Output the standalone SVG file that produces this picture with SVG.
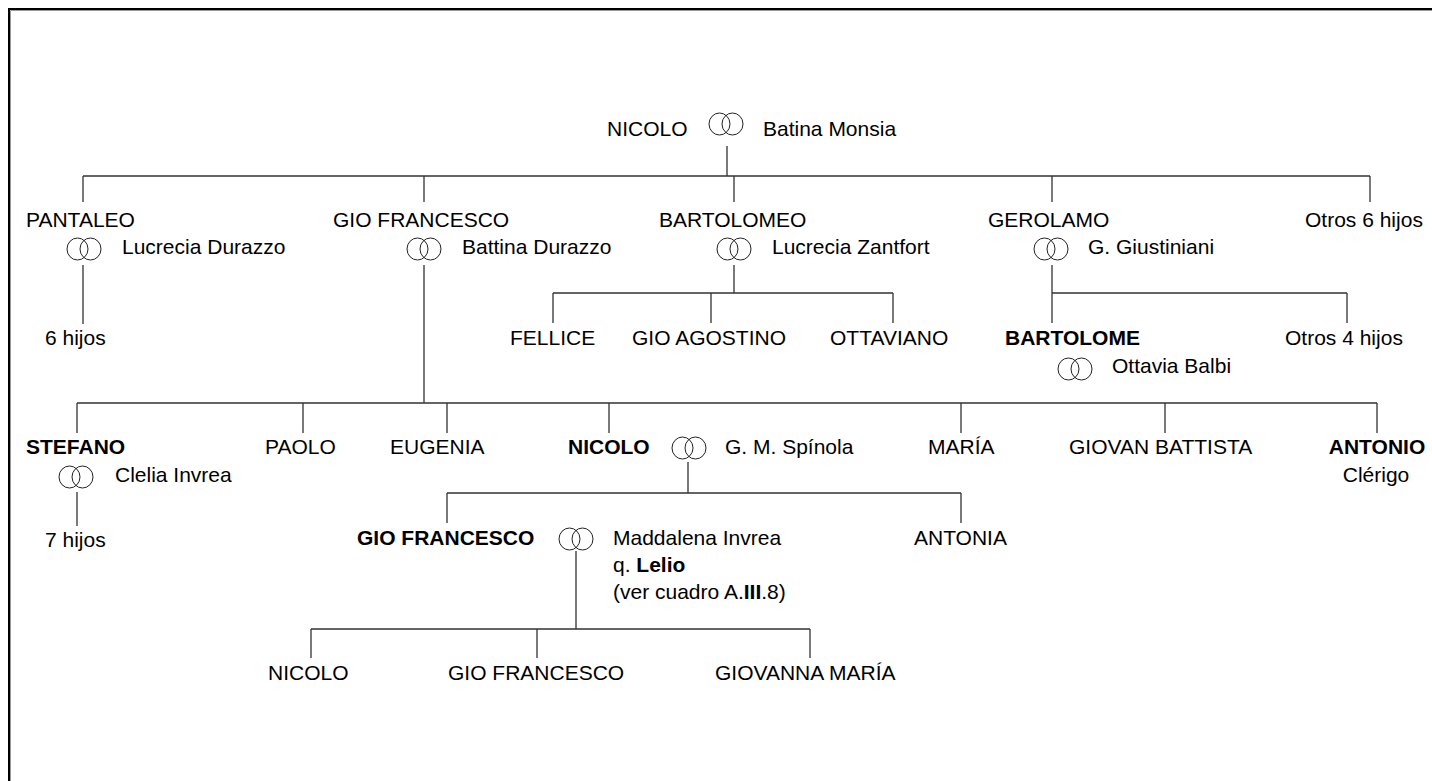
<svg xmlns="http://www.w3.org/2000/svg" xmlns:xlink="http://www.w3.org/1999/xlink" width="1432" height="781" viewBox="0 0 1432 781">
<style>
text{font-family:"Liberation Sans",Arial,Helvetica,sans-serif;font-size:21px;fill:#000}
.b{font-weight:bold}
.ln{stroke:#333;stroke-width:1.3;fill:none}
.ring{stroke:#222;stroke-width:1;fill:none}
</style>
<defs>
<g id="rings"><ellipse class="ring" cx="-6.5" cy="0" rx="10.5" ry="11"/><ellipse class="ring" cx="6.5" cy="0" rx="10.5" ry="11"/></g>
</defs>
<rect x="0" y="0" width="1432" height="781" fill="#fff"/>
<rect x="9" y="9" width="1440" height="800" fill="none" stroke="#000" stroke-width="2"/>
<path d="M10.5 800V10.5H1440" fill="none" stroke="#999" stroke-width="1"/>

<g id="connectors">
<path class="ln" d="M727 146V176M83 176H1370M83 176V202M424 176V202M734 176V202M1052 176V202M1370 176V202"/>
<path class="ln" d="M83 265V324M424 265V403"/>
<path class="ln" d="M734 265V293M553 293H893M553 293V323M711 293V323M893 293V323"/>
<path class="ln" d="M1052 265V323M1052 293H1347M1347 293V323"/>
<path class="ln" d="M77 403H1377M77 403V433M303 403V433M447 403V433M609 403V433M961 403V433M1165 403V433M1377 403V433"/>
<path class="ln" d="M77 492V526"/>
<path class="ln" d="M688 462V493M447 493H961M447 493V523M961 493V523"/>
<path class="ln" d="M576 551V629M311 629H810M311 629V658M537 629V658M810 629V658"/>
</g>

<g id="n-nicolo-top"><text x="607" y="136">NICOLO</text><use xlink:href="#rings" x="726" y="124"/><text x="763" y="136">Batina Monsia</text></g>
<g id="n-pantaleo"><text x="26" y="227">PANTALEO</text><use xlink:href="#rings" x="84" y="249"/><text x="122" y="254">Lucrecia Durazzo</text></g>
<g id="n-giofrancesco"><text x="333" y="227">GIO FRANCESCO</text><use xlink:href="#rings" x="424" y="249"/><text x="462" y="254">Battina Durazzo</text></g>
<g id="n-bartolomeo"><text x="659" y="227">BARTOLOMEO</text><use xlink:href="#rings" x="734" y="249"/><text x="772" y="254">Lucrecia Zantfort</text></g>
<g id="n-gerolamo"><text x="988" y="227">GEROLAMO</text><use xlink:href="#rings" x="1051" y="249"/><text x="1088" y="254">G. Giustiniani</text></g>
<g id="n-otros6"><text x="1305" y="227">Otros 6 hijos</text></g>
<g id="n-6hijos"><text x="45" y="345">6 hijos</text></g>
<g id="n-fellice"><text x="510" y="345">FELLICE</text></g>
<g id="n-gioagostino"><text x="632" y="345">GIO AGOSTINO</text></g>
<g id="n-ottaviano"><text x="830" y="345">OTTAVIANO</text></g>
<g id="n-bartolome"><text class="b" x="1005" y="345">BARTOLOME</text><use xlink:href="#rings" x="1075" y="369"/><text x="1112" y="373">Ottavia Balbi</text></g>
<g id="n-otros4"><text x="1285" y="345">Otros 4 hijos</text></g>
<g id="n-stefano"><text class="b" x="26" y="454">STEFANO</text><use xlink:href="#rings" x="76" y="477"/><text x="115" y="482">Clelia Invrea</text></g>
<g id="n-paolo"><text x="265" y="454">PAOLO</text></g>
<g id="n-eugenia"><text x="390" y="454">EUGENIA</text></g>
<g id="n-nicolo"><text class="b" x="568" y="454">NICOLO</text><use xlink:href="#rings" x="689" y="448"/><text x="725" y="454">G. M. Spínola</text></g>
<g id="n-maria"><text x="928" y="454">MARÍA</text></g>
<g id="n-giovanbattista"><text x="1069" y="454">GIOVAN BATTISTA</text></g>
<g id="n-antonio"><text class="b" x="1377" y="454" text-anchor="middle">ANTONIO</text><text x="1376" y="482" text-anchor="middle">Clérigo</text></g>
<g id="n-7hijos"><text x="45" y="547">7 hijos</text></g>
<g id="n-giofrancesco2"><text class="b" x="357" y="545">GIO FRANCESCO</text><use xlink:href="#rings" x="576" y="539"/><text x="613" y="545">Maddalena Invrea</text><text x="613" y="572">q. <tspan class="b">Lelio</tspan></text><text x="613" y="599">(ver cuadro A.<tspan class="b">III</tspan>.8)</text></g>
<g id="n-antonia"><text x="914" y="545">ANTONIA</text></g>
<g id="n-nicolo3"><text x="268" y="680">NICOLO</text></g>
<g id="n-giofrancesco3"><text x="448" y="680">GIO FRANCESCO</text></g>
<g id="n-giovannamaria"><text x="715" y="680">GIOVANNA MARÍA</text></g>
</svg>
